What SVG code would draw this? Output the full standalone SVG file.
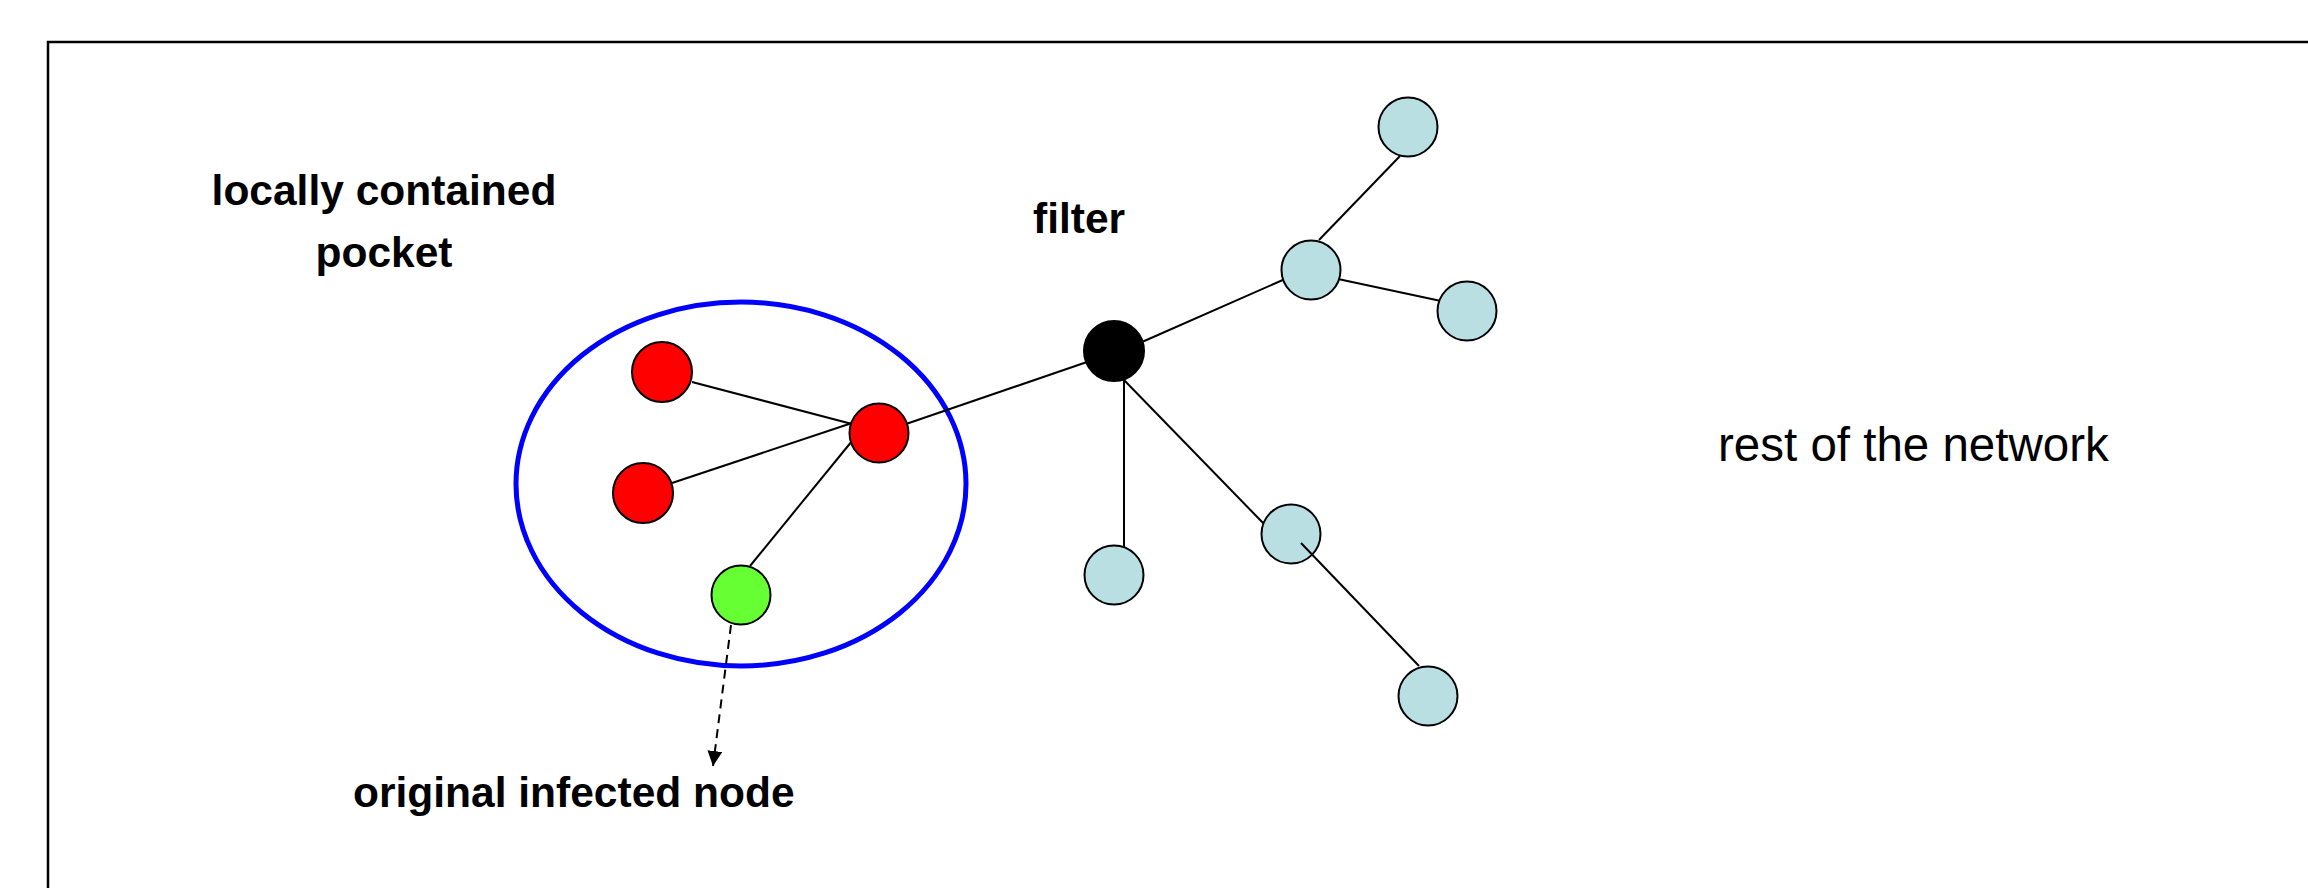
<svg xmlns="http://www.w3.org/2000/svg" width="2308" height="888" viewBox="0 0 2308 888">
<style>
.node{stroke:#000;stroke-width:2}
.red{fill:#FF0000}
.green{fill:#66FF33}
.blue{fill:#B9DFE2}
.black{fill:#000}
.edge{stroke:#000;stroke-width:2;fill:none}
.lbl{font-family:"Liberation Sans",Arial,sans-serif;font-weight:bold;font-size:42.5px;fill:#000}
.reg{font-family:"Liberation Sans",Arial,sans-serif;font-size:47.5px;fill:#000}
</style>
<defs>
<marker id="arr" viewBox="0 0 10 10" refX="10" refY="5" markerWidth="15" markerHeight="15" markerUnits="userSpaceOnUse" orient="auto">
<path d="M0,0 L10,5 L0,10 Z" fill="#000"/>
</marker>
</defs>
<rect x="0" y="0" width="2308" height="888" fill="#fff"/>
<rect x="48" y="42" width="2300" height="900" fill="none" stroke="#000" stroke-width="2.5"/>
<g id="pocket">
<ellipse cx="741" cy="484" rx="225" ry="182" fill="none" stroke="#0000FF" stroke-width="5"/>
</g>
<g id="connectors">
<line class="edge" x1="692" y1="382" x2="852" y2="424"/>
<line class="edge" x1="672" y1="483" x2="852" y2="423"/>
<line class="edge" x1="750" y1="566" x2="852" y2="441"/>
<line class="edge" x1="906" y1="424" x2="1087" y2="362"/>
<line class="edge" x1="1142" y1="342" x2="1285" y2="279"/>
<line class="edge" x1="1319" y1="240" x2="1400" y2="156"/>
<line class="edge" x1="1338" y1="279" x2="1441" y2="301"/>
<line class="edge" x1="1124" y1="380" x2="1124" y2="550"/>
<line class="edge" x1="1124" y1="380" x2="1265" y2="525"/>
<path class="edge" d="M731,625 L713,766" stroke-dasharray="9,6" marker-end="url(#arr)"/>
</g>
<g id="n-red1"><circle class="node red" cx="662" cy="372" r="30"/></g>
<g id="n-red2"><circle class="node red" cx="643" cy="493" r="30"/></g>
<g id="n-hub"><circle class="node red" cx="879" cy="433" r="29.5"/></g>
<g id="n-green"><circle class="node green" cx="741" cy="595" r="29.5"/></g>
<g id="n-filter"><circle class="node black" cx="1114" cy="351" r="30"/></g>
<g id="n-top"><circle class="node blue" cx="1408" cy="127" r="29.5"/></g>
<g id="n-mid"><circle class="node blue" cx="1311" cy="270" r="29.5"/></g>
<g id="n-right"><circle class="node blue" cx="1467" cy="311" r="29.5"/></g>
<g id="n-bl"><circle class="node blue" cx="1114" cy="575" r="29.5"/></g>
<g id="n-ml"><circle class="node blue" cx="1291" cy="534" r="29.5"/></g>
<g id="n-bottom"><circle class="node blue" cx="1428" cy="696" r="29.5"/></g>
<line class="edge" x1="1301" y1="543" x2="1419" y2="666"/>
<g id="labels">
<text class="lbl" x="384" y="205" text-anchor="middle">locally contained</text>
<text class="lbl" x="384" y="267" text-anchor="middle">pocket</text>
<text class="lbl" x="1033" y="233">filter</text>
<text class="lbl" x="353" y="807">original infected node</text>
<text class="reg" x="1718" y="461">rest of the network</text>
</g>
</svg>
